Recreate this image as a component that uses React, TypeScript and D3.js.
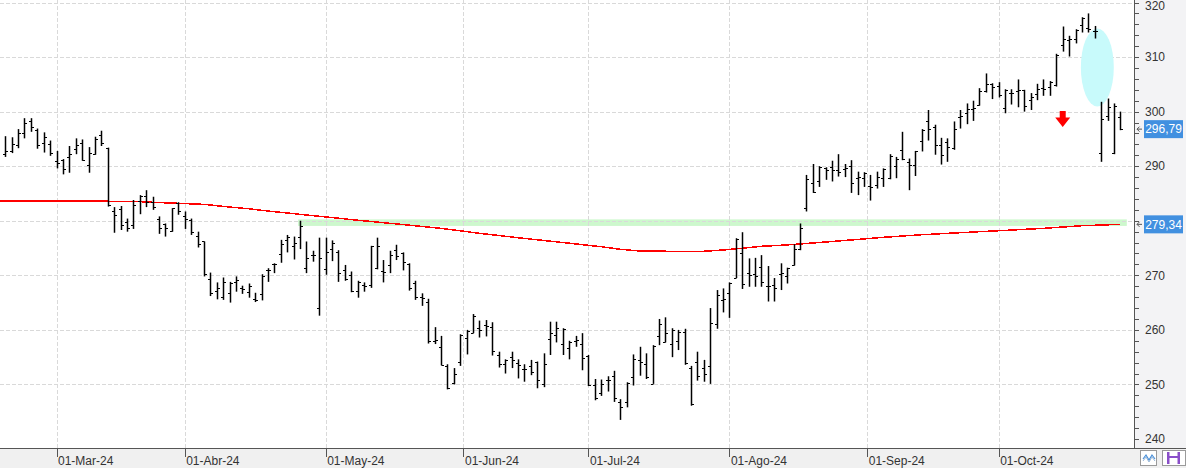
import React, { useEffect, useRef } from "react";
import * as d3 from "d3";

// trading calendar (NYSE, Feb 20 - Oct 28 2024)
const START = "2024-02-20";
const END = "2024-10-28";
const HOLIDAYS = ["2024-03-29", "2024-05-27", "2024-06-19", "2024-07-04", "2024-09-02"];
const MONTHS = ["Ene", "Feb", "Mar", "Abr", "May", "Jun", "Jul", "Ago", "Sep", "Oct", "Nov", "Dic"];

const opens = [
  292.2, 292.7, 293.9, 296.0, 298.2, 296.6, 294.2, 294.1, 291.0, 291.1,
  291.6, 293.1, 294.3, 290.2, 292.2, 295.8, 293.3, 281.7, 282.1, 279.7,
  279.2, 283.6, 284.5, 283.5, 280.3, 279.4, 278.1, 283.2, 280.8, 280.2,
  277.2, 276.2, 269.4, 267.2, 266.1, 266.8, 268.8, 267.6, 267.0, 265.6,
  266.6, 270.9, 272.1, 273.9, 276.5, 275.4, 277.1, 271.3, 273.8, 264.1,
  271.1, 274.8, 274.3, 271.0, 270.1, 267.1, 268.2, 268.2, 271.3, 270.7,
  271.9, 274.6, 274.0, 272.0, 268.5, 266.1, 265.2, 258.0, 256.9, 253.4,
  250.3, 254.2, 258.5, 259.4, 260.3, 260.9, 260.5, 255.4, 253.7, 255.1,
  253.9, 252.9, 253.4, 254.1, 250.1, 258.3, 259.1, 257.5, 256.6, 258.0,
  257.5, 255.3, 249.9, 248.4, 250.8, 251.6, 246.8, 246.8, 251.4, 254.5,
  253.7, 250.1, 258.9, 257.8, 257.4, 258.0, 259.6, 253.0, 254.1, 253.0,
  253.4, 261.1, 265.5, 266.7, 269.5, 274.0, 270.5, 270.2, 271.5, 268.1,
  268.2, 270.2, 269.9, 271.9, 274.8, 282.3, 287.0, 287.3, 289.6, 289.9,
  289.3, 289.4, 290.0, 287.8, 287.8, 286.4, 286.6, 287.8, 287.8, 290.0,
  293.0, 290.8, 290.2, 294.6, 298.2, 297.2, 293.9, 294.5, 293.4, 299.1,
  299.7, 300.4, 301.2, 303.7, 305.1, 304.7, 300.6, 303.5, 303.7, 303.9,
  302.1, 303.2, 304.3, 304.5, 304.9, 312.3, 313.1, 313.3, 315.8, 315.3,
  314.7, 292.5, 299.2, 292.5, 299.1,
];

const highs = [
  295.5, 295.3, 296.8, 298.8, 298.8, 296.9, 296.2, 294.7, 292.8, 291.3,
  293.7, 295.1, 294.9, 293.5, 295.4, 296.5, 293.4, 282.5, 282.7, 280.4,
  283.8, 284.7, 285.6, 284.4, 280.8, 279.5, 282.3, 283.4, 281.7, 280.4,
  278.0, 276.2, 270.5, 268.7, 269.6, 268.8, 269.8, 268.1, 268.5, 266.8,
  270.2, 271.3, 272.2, 276.5, 277.4, 277.1, 280.0, 276.2, 274.5, 276.9,
  276.9, 276.4, 274.6, 271.9, 270.7, 269.0, 268.7, 275.4, 276.9, 272.8,
  274.5, 275.6, 274.2, 272.2, 269.0, 266.7, 265.7, 260.5, 258.9, 253.7,
  253.0, 259.2, 260.0, 262.9, 261.7, 261.8, 261.4, 256.0, 254.6, 256.0,
  254.6, 253.7, 254.5, 254.2, 255.7, 261.5, 261.5, 260.3, 258.0, 258.9,
  259.4, 255.4, 251.0, 250.9, 251.5, 252.5, 247.3, 250.4, 255.5, 256.9,
  255.7, 257.2, 262.0, 262.3, 260.3, 260.0, 260.2, 253.4, 256.0, 254.5,
  264.0, 267.3, 267.6, 268.7, 276.8, 277.9, 273.1, 273.2, 273.7, 271.7,
  269.5, 272.2, 271.4, 275.7, 279.5, 288.4, 290.4, 290.0, 289.8, 291.0,
  292.2, 290.4, 291.1, 289.0, 288.9, 288.4, 289.0, 289.6, 292.2, 291.7,
  296.3, 291.4, 292.8, 296.8, 300.3, 297.6, 295.2, 295.1, 298.2, 300.3,
  301.5, 302.0, 304.3, 307.0, 305.2, 305.4, 304.1, 304.1, 305.9, 304.0,
  303.4, 305.1, 305.9, 305.6, 310.6, 315.6, 313.9, 315.1, 317.3, 318.0,
  315.7, 301.8, 302.4, 301.5, 300.0,
];

const lows = [
  291.7, 292.4, 293.3, 295.1, 296.3, 293.2, 292.5, 291.9, 289.6, 288.5,
  288.8, 292.2, 291.0, 288.8, 292.1, 293.7, 282.6, 277.8, 278.3, 278.0,
  278.5, 281.2, 282.5, 282.0, 277.6, 277.1, 278.0, 281.1, 278.5, 277.4,
  275.1, 269.8, 266.2, 265.6, 265.5, 265.0, 267.0, 266.6, 265.9, 265.1,
  265.4, 268.8, 270.4, 272.3, 274.2, 272.9, 274.8, 270.4, 272.5, 262.6,
  270.1, 272.6, 268.8, 269.0, 266.9, 265.9, 267.0, 267.7, 271.1, 268.7,
  270.4, 272.8, 270.9, 267.2, 265.5, 264.4, 257.5, 257.4, 253.5, 249.1,
  250.0, 253.4, 255.5, 259.4, 258.6, 258.8, 255.3, 253.1, 252.0, 253.0,
  251.1, 250.5, 251.7, 249.3, 249.5, 255.4, 257.7, 255.4, 254.6, 256.9,
  252.6, 249.7, 247.1, 247.9, 248.7, 246.8, 243.5, 245.8, 249.8, 251.6,
  251.0, 250.1, 257.2, 257.7, 255.0, 256.3, 253.6, 246.1, 250.7, 250.5,
  250.1, 260.2, 263.2, 262.2, 269.5, 267.5, 267.9, 267.9, 267.9, 265.2,
  265.2, 267.3, 268.5, 271.8, 274.6, 281.7, 285.1, 286.2, 287.5, 287.2,
  288.1, 288.0, 285.1, 284.7, 286.2, 283.7, 285.9, 286.2, 287.6, 287.8,
  291.1, 285.6, 288.2, 292.7, 294.7, 292.1, 290.3, 290.8, 293.0, 296.9,
  297.7, 298.3, 301.1, 303.5, 302.3, 302.6, 299.7, 301.3, 300.8, 300.0,
  300.3, 302.1, 302.9, 302.9, 304.6, 311.0, 310.1, 312.5, 314.5, 314.5,
  313.4, 290.8, 298.3, 292.2, 296.6,
];

const closes = [
  292.7, 294.1, 296.0, 297.9, 297.1, 293.9, 295.3, 292.4, 290.5, 289.4,
  292.3, 293.9, 291.2, 292.5, 294.9, 294.2, 282.8, 281.0, 279.2, 278.6,
  282.9, 284.5, 283.5, 282.6, 278.7, 278.7, 282.3, 281.7, 280.3, 278.0,
  275.7, 270.2, 266.8, 267.6, 268.8, 268.6, 269.1, 267.4, 268.1, 265.5,
  269.9, 271.0, 272.0, 275.7, 277.1, 276.0, 279.0, 273.1, 273.7, 273.1,
  274.2, 275.9, 270.5, 269.3, 267.1, 268.7, 268.0, 275.3, 275.4, 270.6,
  273.8, 273.5, 272.4, 267.7, 266.0, 265.9, 258.0, 258.1, 253.6, 249.3,
  251.9, 259.1, 259.8, 262.6, 260.0, 260.7, 256.1, 253.7, 254.5, 254.5,
  253.5, 252.8, 252.3, 250.8, 253.7, 259.4, 260.3, 260.1, 257.7, 258.1,
  254.9, 249.9, 247.5, 250.1, 250.9, 247.6, 245.8, 250.2, 254.6, 254.2,
  251.4, 257.1, 261.0, 259.5, 260.0, 259.6, 253.9, 246.4, 251.5, 251.9,
  261.2, 266.4, 265.6, 268.5, 276.6, 268.4, 270.1, 269.9, 268.8, 268.0,
  267.7, 270.4, 271.3, 274.8, 278.6, 287.7, 285.3, 289.9, 289.3, 289.3,
  288.9, 289.6, 287.0, 288.0, 288.7, 286.2, 288.0, 289.5, 291.9, 291.4,
  291.3, 290.2, 292.7, 296.6, 296.8, 293.9, 292.1, 293.5, 296.8, 299.2,
  300.4, 300.6, 303.7, 305.1, 304.6, 303.1, 304.0, 303.5, 304.0, 301.0,
  302.7, 304.1, 304.1, 305.5, 310.4, 313.4, 313.4, 315.0, 317.1, 315.1,
  314.8, 298.6, 300.9, 301.0, 296.79,
];

// 200-day moving average, read at a handful of bars
const maIndex = [-1, 0, 20, 23, 27, 31, 35, 38, 41, 46, 55, 62, 68, 74, 80, 87, 93, 96, 99, 104, 109, 112, 115, 118, 121, 124, 130, 137, 143, 149, 155, 162, 168, 174];
const maValues = [283.62, 283.62, 283.56, 283.38, 283.2, 283.0, 282.52, 282.2, 281.78, 281.18, 280.1, 279.31, 278.61, 277.7, 276.89, 276.01, 275.24, 274.77, 274.45, 274.4, 274.4, 274.64, 274.95, 275.32, 275.5, 275.74, 276.29, 276.96, 277.44, 277.81, 278.17, 278.61, 279.09, 279.34];

const yTicks = [250, 260, 270, 280, 290, 300, 310, 320];
const yLabels = [240, 250, 260, 270, 290, 300, 310, 320];

// support zone and annotations
const supportZone = [279.05, 280.25];
const supportFrom = 45.7;
const supportTo = 175;
const lastPrice = 296.79;
const maLast = 279.34;
const gapCenter = [170.4, 308.1];
const gapRadius = [2.57, 7.15];
const arrowAt = [165, 300.1, 297.2];

function tradingDays() {
  const start = d3.timeParse("%Y-%m-%d")(START);
  const end = d3.timeParse("%Y-%m-%d")(END);
  const fmt = d3.timeFormat("%Y-%m-%d");
  return d3.timeDay
    .range(start, d3.timeDay.offset(end, 1))
    .filter(d => d.getDay() !== 0 && d.getDay() !== 6 && !HOLIDAYS.includes(fmt(d)));
}

const fmtPrice = (v: number) => v.toFixed(2).replace(".", ",");

export default function App() {
  const ref = useRef<SVGSVGElement>(null);

  useEffect(() => {
    const W = 1186;
    const H = 468;
    const plotRight = 1134;
    const plotBottom = 448;
    const font = "'Liberation Sans', Arial, sans-serif";

    const svg = d3.select(ref.current);
    svg.selectAll("*").remove();

    const days = tradingDays();

    const x = d3.scaleLinear().domain([0, 174]).range([5.23, 1120.4]);
    const y = d3.scaleLinear().domain([240, 320]).range([439, 2.5]);

    // month ticks: first trading day of every month
    const monthTicks: { pos: number; label: string }[] = [];
    days.forEach((d, i) => {
      if (i > 0 && d.getMonth() !== days[i - 1].getMonth()) {
        monthTicks.push({
          pos: d.getDate() === 1 ? i : i - 0.5,
          label: "01-" + MONTHS[d.getMonth()] + "-" + d3.timeFormat("%y")(d),
        });
      }
    });

    svg.append("rect").attr("width", W).attr("height", H).attr("fill", "#ffffff");
    svg.append("rect").attr("x", plotRight).attr("width", W - plotRight).attr("height", H).attr("fill", "#f3f3f5");
    svg.append("rect").attr("y", plotBottom).attr("width", W).attr("height", H - plotBottom).attr("fill", "#f0f0f0");

    svg.append("defs").append("clipPath").attr("id", "plot-clip")
      .append("rect").attr("width", plotRight).attr("height", plotBottom);

    const plot = svg.append("g").attr("clip-path", "url(#plot-clip)");

    // support band
    plot.append("rect")
      .attr("x", x(supportFrom))
      .attr("width", x(supportTo) - x(supportFrom))
      .attr("y", y(supportZone[1]))
      .attr("height", y(supportZone[0]) - y(supportZone[1]))
      .attr("fill", "#cdf8cd");

    // grid
    plot.selectAll(".hgrid").data(yTicks).enter().append("line")
      .attr("x1", 0).attr("x2", plotRight)
      .attr("y1", d => Math.round(y(d)) + 0.5).attr("y2", d => Math.round(y(d)) + 0.5)
      .attr("stroke", "#d9d9d9").attr("stroke-dasharray", "4,2");
    plot.selectAll(".vgrid").data(monthTicks).enter().append("line")
      .attr("x1", d => Math.round(x(d.pos)) + 0.5).attr("x2", d => Math.round(x(d.pos)) + 0.5)
      .attr("y1", 0).attr("y2", plotBottom)
      .attr("stroke", "#d9d9d9").attr("stroke-dasharray", "4,2");

    // gap highlight
    plot.append("ellipse")
      .attr("cx", x(gapCenter[0])).attr("cy", y(gapCenter[1]))
      .attr("rx", x(gapCenter[0] + gapRadius[0]) - x(gapCenter[0]))
      .attr("ry", y(gapCenter[1] - gapRadius[1]) - y(gapCenter[1]))
      .attr("fill", "#c8fafb");

    // moving average
    const ma = maIndex.map((d, i) => [d, maValues[i]] as [number, number]);
    plot.append("path")
      .attr("d", d3.line<[number, number]>().x(d => x(d[0])).y(d => y(d[1]))(ma))
      .attr("fill", "none").attr("stroke", "#ff0000").attr("stroke-width", 1.5)
      .attr("shape-rendering", "crispEdges");

    // OHLC bars
    const bars = plot.selectAll(".bar").data(days).enter().append("g").attr("class", "bar");
    const bx = (i: number) => Math.round(x(i)) + 0.5;
    const by = (v: number) => Math.round(y(v)) + 0.5;
    bars.append("line")
      .attr("x1", (d, i) => bx(i)).attr("x2", (d, i) => bx(i))
      .attr("y1", (d, i) => y(highs[i])).attr("y2", (d, i) => y(lows[i]))
      .attr("stroke", "#000").attr("stroke-width", 1.5);
    bars.append("line")
      .attr("x1", (d, i) => bx(i) - 2.5).attr("x2", (d, i) => bx(i))
      .attr("y1", (d, i) => by(opens[i])).attr("y2", (d, i) => by(opens[i]))
      .attr("stroke", "#000").attr("stroke-width", 1);
    bars.append("line")
      .attr("x1", (d, i) => bx(i)).attr("x2", (d, i) => bx(i) + 2.5)
      .attr("y1", (d, i) => by(closes[i])).attr("y2", (d, i) => by(closes[i]))
      .attr("stroke", "#000").attr("stroke-width", 1);

    // down arrow
    const ax = x(arrowAt[0]);
    const aTop = y(arrowAt[1]);
    const aTip = y(arrowAt[2]);
    const aMid = aTop + (aTip - aTop) * 0.4;
    plot.append("path")
      .attr("d", `M${ax - 3},${aTop}L${ax + 3},${aTop}L${ax + 3},${aMid}L${ax + 7.5},${aMid}L${ax},${aTip}L${ax - 7.5},${aMid}L${ax - 3},${aMid}Z`)
      .attr("fill", "#ff0000");

    // axes
    svg.append("line")
      .attr("x1", plotRight + 0.5).attr("x2", plotRight + 0.5).attr("y1", 0).attr("y2", plotBottom)
      .attr("stroke", "#555");
    svg.append("line")
      .attr("x1", 0).attr("x2", W).attr("y1", plotBottom + 0.5).attr("y2", plotBottom + 0.5)
      .attr("stroke", "#555");

    const minor = d3.range(240, 321, 2);
    svg.selectAll(".ytick").data(minor).enter().append("line")
      .attr("x1", plotRight).attr("x2", plotRight + 5)
      .attr("y1", d => Math.round(y(d)) + 0.5).attr("y2", d => Math.round(y(d)) + 0.5)
      .attr("stroke", "#555");
    svg.selectAll(".ylabel").data(yLabels).enter().append("text")
      .attr("x", plotRight + 11).attr("y", d => Math.max(y(d), 6))
      .attr("dy", "0.35em")
      .attr("font-family", font).attr("font-size", 12).attr("fill", "#333")
      .text(d => d);

    svg.selectAll(".xtick").data(monthTicks).enter().append("line")
      .attr("x1", d => Math.round(x(d.pos)) + 0.5).attr("x2", d => Math.round(x(d.pos)) + 0.5)
      .attr("y1", plotBottom).attr("y2", plotBottom + 9)
      .attr("stroke", "#555");
    svg.selectAll(".xlabel").data(monthTicks).enter().append("text")
      .attr("x", d => x(d.pos) + 1.5).attr("y", 464.5)
      .attr("font-family", font).attr("font-size", 12).attr("fill", "#333")
      .text(d => d.label);

    // price markers on the axis
    [lastPrice, maLast].forEach(v => {
      const py = y(v);
      svg.append("path")
        .attr("d", `M${plotRight + 8},${py}L${plotRight + 3},${py}M${plotRight + 5.5},${py - 2.5}L${plotRight + 3},${py}L${plotRight + 5.5},${py + 2.5}`)
        .attr("fill", "none").attr("stroke", "#555");
      svg.append("rect")
        .attr("x", plotRight + 10).attr("y", py - 9).attr("width", 39).attr("height", 18)
        .attr("fill", "#4190e0");
      svg.append("text")
        .attr("x", plotRight + 29.5).attr("y", py).attr("dy", "0.35em")
        .attr("text-anchor", "middle")
        .attr("font-family", font).attr("font-size", 12).attr("fill", "#fff")
        .text(fmtPrice(v));
    });

    // toolbar icons
    svg.append("rect").attr("x", 1140.5).attr("y", 450.5).attr("width", 16).attr("height", 15)
      .attr("fill", "#fff").attr("stroke", "#9a9a9a");
    svg.append("path")
      .attr("d", "M1143,459L1146,455L1149,460L1152,455L1155,459")
      .attr("fill", "none").attr("stroke", "#4a90d9").attr("stroke-width", 1.2);
    svg.append("path")
      .attr("d", "M1143,461L1146,457L1149,462L1152,457L1155,461")
      .attr("fill", "none").attr("stroke", "#9ab8d8").attr("stroke-width", 1);
    svg.append("rect").attr("x", 1162.5).attr("y", 450.5).attr("width", 23).attr("height", 15)
      .attr("fill", "#fff").attr("stroke", "#9a9a9a");
    svg.append("rect").attr("x", 1167).attr("y", 452).attr("width", 13).attr("height", 12)
      .attr("fill", "#8a4fc9");
    svg.append("rect").attr("x", 1169.5).attr("y", 452).attr("width", 8).attr("height", 4)
      .attr("fill", "#fff");
    svg.append("rect").attr("x", 1169.5).attr("y", 458).attr("width", 8).attr("height", 6)
      .attr("fill", "#fff");
  }, []);

  return (
    <div style={{ position: "absolute", left: 0, top: 0 }}>
      <svg ref={ref} width={1186} height={468} style={{ display: "block" }} />
    </div>
  );
}
